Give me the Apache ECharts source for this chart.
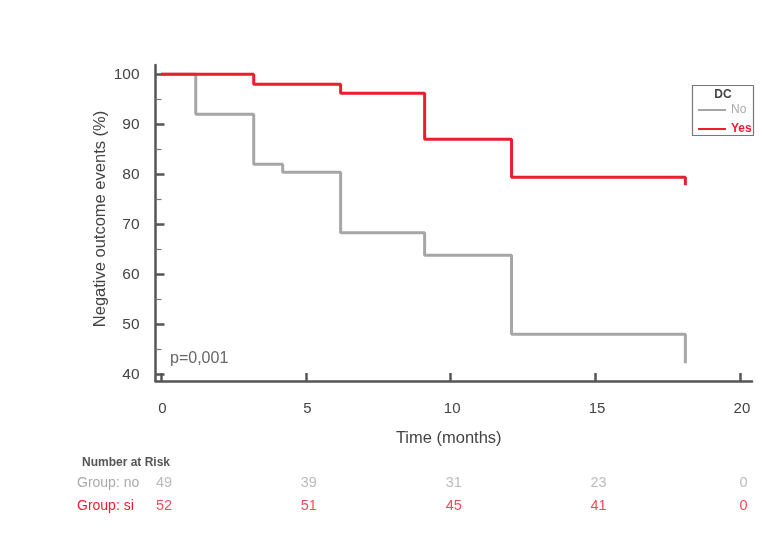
<!DOCTYPE html>
<html>
<head>
<meta charset="utf-8">
<script src="https://cdn.jsdelivr.net/npm/echarts@6/dist/echarts.min.js"></script>
<style>
html,body{margin:0;padding:0;background:#fff;}
#chart{width:784px;height:536px;}
</style>
</head>
<body>
<div id="chart"></div>
<script>
// ---- data ----
var noSteps = [[0,100],[1.2,92],[3.2,82],[4.2,80.4],[6.2,68.3],[9.1,63.8],[12.1,48],[18.1,42.2]];
var yesSteps = [[0,100],[3.2,98],[6.2,96.2],[9.1,87],[12.1,79.4],[18.1,77.8]];
var xTicks = [0,5,10,15,20];
var yTicks = [40,50,60,70,80,90,100];
var yMinorTicks = [45,55,65,75,85,95];
var riskTimes = [0,5,10,15,20];
var riskNo = [49,39,31,23,0];
var riskSi = [52,51,45,41,0];
var groupLabels = ['Group: no','Group: si'];
var seriesNames = ['No','Yes'];

var GREY = '#a6a6a6', RED = '#ed1c2e', AX = '#555555';
var FONT = 'Liberation Sans';

var chart = echarts.init(document.getElementById('chart'));

var riskNoData = riskTimes.map(function(t,i){return [t, groupLabels[0], riskNo[i]];});
var riskSiData = riskTimes.map(function(t,i){return [t, groupLabels[1], riskSi[i]];});

var option = {
  backgroundColor:'#fff',
  animation:false,
  textStyle:{fontFamily:FONT},
  grid:[
    {left:155.5, right:32, top:65, height:316},
    {left:155.5, right:32, top:471, height:46}
  ],
  xAxis:[
    {type:'value', gridIndex:0, min:-0.19, max:20.4,
     name:'Time (months)', nameLocation:'middle', nameGap:49, nameMoveOverlap:false,
     nameTextStyle:{fontSize:16.5, color:'#444', padding:[0,10,0,0]},
     axisLine:{show:true, onZero:false, lineStyle:{color:AX, width:2.5}},
     axisTick:{show:true, inside:true, length:8, customValues:xTicks, lineStyle:{color:AX, width:2.5}},
     axisLabel:{show:true, customValues:xTicks, margin:20, fontSize:15, color:'#444', padding:[0,0,0,3]},
     splitLine:{show:false}},
    {type:'value', gridIndex:1, min:-0.19, max:20.4, show:false}
  ],
  yAxis:[
    {type:'value', gridIndex:0, min:38.66, max:101.86, position:'left',
     name:'Negative outcome events (%)', nameLocation:'middle', nameGap:47, nameMoveOverlap:false,
     nameTextStyle:{fontSize:16.5, color:'#444', padding:[0,0,0,8]},
     axisLine:{show:true, onZero:false, lineStyle:{color:AX, width:2.5}},
     axisTick:{show:true, inside:true, length:9, customValues:yTicks, lineStyle:{color:AX, width:2.5}},
     axisLabel:{show:true, customValues:yTicks, margin:16, fontSize:15.5, color:'#444'},
     splitLine:{show:false}},
    {type:'value', gridIndex:0, min:38.66, max:101.86, position:'left',
     axisLine:{show:false, onZero:false},
     axisTick:{show:true, inside:true, length:6, customValues:yMinorTicks, lineStyle:{color:'#777', width:1.2}},
     axisLabel:{show:false}, splitLine:{show:false}},
    {type:'category', gridIndex:1, inverse:true, data:groupLabels, show:false}
  ],
  legend:{
    orient:'vertical', left:693, top:99, padding:5, itemWidth:28, itemHeight:2, itemGap:7,
    icon:'rect', selectedMode:false,
    textStyle:{fontSize:12},
    data:[{name:seriesNames[0], textStyle:{color:'#aaaaaa'}},
          {name:seriesNames[1], textStyle:{color:RED, fontWeight:'bold'}}]
  },
  graphic:[
    {type:'rect', shape:{x:692.5, y:85.5, width:61, height:50}, style:{fill:'none', stroke:'#777', lineWidth:1.2}, silent:true},
    {type:'text', x:723, y:95, style:{text:'DC', fill:'#444', font:'bold 12px "Liberation Sans"', align:'center', verticalAlign:'middle'}},
    {type:'text', x:170, y:359, style:{text:'p=0,001', fill:'#666', font:'16px "Liberation Sans"', verticalAlign:'middle'}},
    {type:'text', x:82, y:463, style:{text:'Number at Risk', fill:'#555', font:'bold 12px "Liberation Sans"', verticalAlign:'middle'}},
    {type:'text', x:77, y:483, style:{text:groupLabels[0], fill:'#aaaaaa', font:'14px "Liberation Sans"', verticalAlign:'middle'}},
    {type:'text', x:77, y:506, style:{text:groupLabels[1], fill:RED, font:'14px "Liberation Sans"', verticalAlign:'middle'}}
  ],
  series:[
    {name:seriesNames[0], type:'line', step:'end', xAxisIndex:0, yAxisIndex:0,
     data:noSteps, symbol:'none', color:GREY, lineStyle:{color:GREY, width:3}, z:2},
    {name:seriesNames[1], type:'line', step:'end', xAxisIndex:0, yAxisIndex:0,
     data:yesSteps, symbol:'none', color:RED, lineStyle:{color:RED, width:3}, z:3},
    {type:'scatter', xAxisIndex:1, yAxisIndex:2, data:riskNoData, symbolSize:1,
     itemStyle:{color:'rgba(0,0,0,0)'},
     label:{show:true, position:'inside', offset:[3,0], fontSize:14.5, color:'#aaaaaa',
            formatter:function(p){return p.value[2];}}},
    {type:'scatter', xAxisIndex:1, yAxisIndex:2, data:riskSiData, symbolSize:1,
     itemStyle:{color:'rgba(0,0,0,0)'},
     label:{show:true, position:'inside', offset:[3,0], fontSize:14.5, color:RED,
            formatter:function(p){return p.value[2];}}}
  ]
};
chart.setOption(option);
</script>
</body>
</html>
